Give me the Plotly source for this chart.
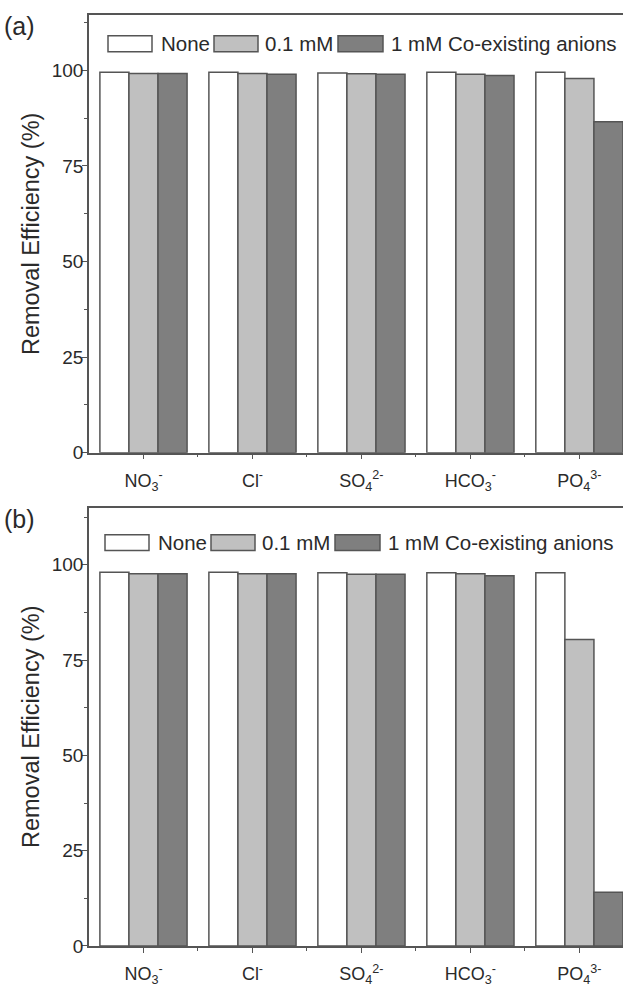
import plotly.graph_objects as go

# Co-existing anion categories and their tick labels
categories = [1, 2, 3, 4, 5]
tick_labels = [
    "NO<sub>3</sub><sup>-</sup>",
    "Cl<sup>-</sup>",
    "SO<sub>4</sub><sup>2-</sup>",
    "HCO<sub>3</sub><sup>-</sup>",
    "PO<sub>4</sub><sup>3-</sup>",
]
series_names = ["None", "0.1 mM", "1 mM Co-existing anions"]

# Removal efficiency (%) — panel (a)
a_none = [99.5, 99.5, 99.3, 99.5, 99.5]
a_low = [99.2, 99.2, 99.1, 99.0, 97.9]
a_high = [99.2, 99.0, 99.0, 98.7, 86.6]

# Removal efficiency (%) — panel (b)
b_none = [98.0, 98.0, 97.9, 97.9, 97.9]
b_low = [97.6, 97.6, 97.5, 97.6, 80.4]
b_high = [97.6, 97.6, 97.5, 97.1, 14.1]

fills = ["#ffffff", "#c0c0c0", "#7f7f7f"]
edge = "#555555"
axis_col = "#555555"
text_col = "#2a2a2a"
font_fam = "Liberation Sans, Arial, sans-serif"

W, H = 623, 987
ML, MR, MT, MB = 89, 0, 15, 35
plot_h = H - MT - MB

# pixel rows of each panel's plot area
a_top, a_bot = 15, 455.5
b_top, b_bot = 510.7, 952

fig = go.Figure()

panels = [
    ("x", "y", [a_none, a_low, a_high]),
    ("x2", "y2", [b_none, b_low, b_high]),
]
for xa, ya, series in panels:
    for name, vals, col in zip(series_names, series, fills):
        fig.add_trace(go.Bar(
            x=categories, y=vals, name=name, xaxis=xa, yaxis=ya,
            marker=dict(color=col, line=dict(color=edge, width=1.5)),
            showlegend=False,
        ))

def ydom(top, bot):
    return [(H - MB - bot) / plot_h, (H - MB - top) / plot_h]

xcommon = dict(
    range=[0.5, 5.4], tickmode="array", tickvals=categories, ticktext=tick_labels,
    showline=True, linecolor=axis_col, linewidth=1.5, mirror=True,
    ticks="outside", ticklen=5, tickwidth=1.2, tickcolor=axis_col,
    minor=dict(tickmode="array", tickvals=[1.5, 2.5, 3.5, 4.5], ticks="outside",
               ticklen=3, tickwidth=1.2, tickcolor=axis_col),
    showgrid=False, zeroline=False, fixedrange=True,
    tickfont=dict(family=font_fam, size=18, color=text_col),
    ticklabelstandoff=6,
)
ycommon = dict(
    tickmode="array", tickvals=[0, 25, 50, 75, 100],
    showline=True, linecolor=axis_col, linewidth=1.5, mirror=False,
    ticks="outside", ticklen=5, tickwidth=1.2, tickcolor=axis_col,
    minor=dict(tickmode="linear", tick0=0, dtick=12.5, ticks="outside",
               ticklen=3, tickwidth=1.2, tickcolor=axis_col),
    showgrid=False, zeroline=False, fixedrange=True,
    tickfont=dict(family=font_fam, size=19, color=text_col),
    ticklabelstandoff=-5,
    title=dict(text="Removal Efficiency (%)", standoff=6,
               font=dict(family=font_fam, size=23.5, color=text_col)),
)

fig.update_layout(
    width=W, height=H,
    margin=dict(l=ML, r=MR, t=MT, b=MB),
    paper_bgcolor="white", plot_bgcolor="white",
    barmode="group", bargap=0.2, bargroupgap=0,
    xaxis=dict(xcommon, anchor="y"),
    yaxis=dict(ycommon, domain=ydom(a_top, a_bot), range=[0, 114.5], anchor="x"),
    xaxis2=dict(xcommon, anchor="y2"),
    yaxis2=dict(ycommon, domain=ydom(b_top, b_bot), range=[0, 115], anchor="x2"),
)

# Legend drawn inside each panel: wide swatches followed by labels
shapes, annotations = [], []
plot_w = W - ML - MR
legend_layout = [
    # (x domain ref, y domain ref, panel top, panel bottom, x shift px, swatch top px)
    ("x domain", "y domain", a_top, a_bot, 0, 36),
    ("x2 domain", "y2 domain", b_top, b_bot, -3, 538),
]
swatch_x = [(108, 152, 159), (214, 258, 263), (338, 383, 389)]
for xr, yr, top, bot, dx, sy in legend_layout:
    sh = 16
    for (x0, x1, tx), col, name in zip(swatch_x, fills, series_names):
        fx0 = (x0 + dx - ML) / plot_w
        fx1 = (x1 + dx - ML) / plot_w
        fy0 = (bot - (sy + sh)) / (bot - top)
        fy1 = (bot - sy) / (bot - top)
        shapes.append(dict(type="rect", xref=xr, yref=yr, x0=fx0, x1=fx1, y0=fy0, y1=fy1,
                           fillcolor=col, line=dict(color=edge, width=1.5)))
        annotations.append(dict(
            text=name, xref=xr, yref=yr, x=(tx + dx - ML) / plot_w, y=(fy0 + fy1) / 2,
            xanchor="left", yanchor="middle", showarrow=False,
            font=dict(family=font_fam, size=20.5, color=text_col),
        ))

# Panel letters
annotations.append(dict(text="(a)", xref="paper", yref="paper", x=-(ML - 2) / plot_w, y=1 - (26 - MT) / plot_h,
                        xanchor="left", yanchor="middle", showarrow=False,
                        font=dict(family=font_fam, size=25, color=text_col)))
annotations.append(dict(text="(b)", xref="paper", yref="paper", x=-(ML - 2) / plot_w, y=1 - (522 - MT) / plot_h,
                        xanchor="left", yanchor="middle", showarrow=False,
                        font=dict(family=font_fam, size=25, color=text_col)))

fig.update_layout(shapes=shapes, annotations=annotations)

fig.write_html("out.html", config=dict(displayModeBar=False))
